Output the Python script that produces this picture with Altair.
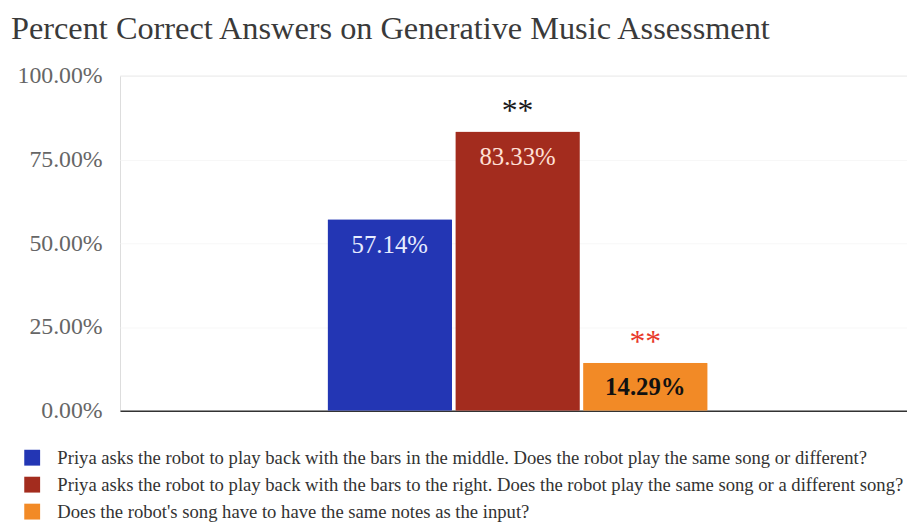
import altair as alt
import pandas as pd

# ---- data ----
series = [
    "Priya asks the robot to play back with the bars in the middle. Does the robot play the same song or different?",
    "Priya asks the robot to play back with the bars to the right. Does the robot play the same song or a different song?",
    "Does the robot's song have to have the same notes as the input?",
]
values = [0.5714, 0.8333, 0.1429]
value_labels = ["57.14%", "83.33%", "14.29%"]
stars = ["", "**", "**"]
colors = ["#2336b4", "#a32c1e", "#f28a26"]
label_colors = ["#e6ecff", "#ffe0d6", "#111111"]
star_colors = ["#111111", "#1a1a1a", "#e8392b"]
group = ["All", "All", "All"]

df = pd.DataFrame({
    "group": group,
    "series": series,
    "value": values,
    "vlabel": value_labels,
    "star": stars,
    "lc": label_colors,
    "sc": star_colors,
    "bold": [False, False, True],
})

FONT = "Liberation Serif"

x = alt.X("group:N", title=None,
          scale=alt.Scale(paddingOuter=0.535, paddingInner=0, align=0.51),
          axis=alt.Axis(labels=False, ticks=False, domain=True,
                        domainColor="#333333", domainWidth=1.5, grid=False))
xoff = alt.XOffset("series:N", sort=series, scale=alt.Scale(paddingInner=0.025, paddingOuter=0))
y = alt.Y("value:Q", title=None,
          scale=alt.Scale(domain=[0, 1]),
          axis=alt.Axis(format=".2%", values=[0, 0.25, 0.5, 0.75, 1.0],
                        ticks=False, domain=False, labelPadding=18,
                        labelFont=FONT, labelFontSize=24, labelColor="#666666",
                        grid=True, gridColor="#f7f7f7"))

base = alt.Chart(df)

bars = base.mark_bar(cornerRadius=1).encode(
    x=x, xOffset=xoff, y=y,
    color=alt.Color("series:N", sort=series,
                    scale=alt.Scale(domain=series, range=colors),
                    legend=alt.Legend(orient="none", legendX=-98, legendY=376,
                                      title=None, symbolType="square", symbolSize=256,
                                      symbolStrokeWidth=0,
                                      labelFont=FONT, labelFontSize=18.8, labelColor="#333333",
                                      labelLimit=1000, rowPadding=7.2, labelOffset=16)),
)

vlabels = base.mark_text(font=FONT, fontSize=25, baseline="middle", dy=26).encode(
    x=x, xOffset=xoff, y=y, text="vlabel:N",
    color=alt.Color("lc:N", scale=None),
).transform_filter("!datum.bold")

vlabels_bold = base.mark_text(font=FONT, fontSize=25, fontWeight="bold", baseline="middle", dy=24).encode(
    x=x, xOffset=xoff, y=y, text="vlabel:N",
    color=alt.Color("lc:N", scale=None),
).transform_filter("datum.bold")

star_text = base.mark_text(font=FONT, fontSize=32, baseline="middle", dy=-21).encode(
    x=x, xOffset=xoff, y=y, text="star:N",
    color=alt.Color("sc:N", scale=None),
)

chart = alt.layer(bars, vlabels, vlabels_bold, star_text).properties(
    width=794, height=338,
    autosize=alt.AutoSizeParams(type="none"),
    padding={"left": 113, "top": 66, "right": 0, "bottom": 111},
    title=alt.TitleParams("Percent Correct Answers on Generative Music Assessment",
                          anchor="start", frame="bounds", font=FONT, fontSize=32.6,
                          fontWeight="normal", color="#3a3a3a", offset=18, dx=-6),
).configure_view(stroke=None).configure(background="white")

chart.save("out.html", embed_options={"renderer": "svg", "actions": False})
